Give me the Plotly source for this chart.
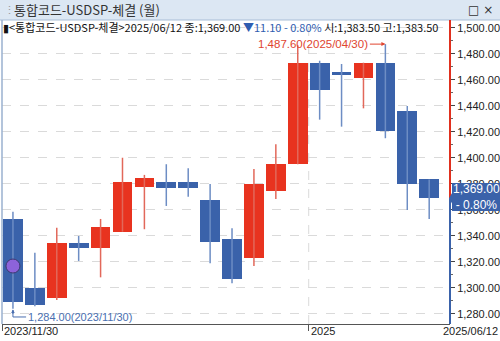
import plotly.graph_objects as go

# ---- data (monthly USD/KRW candles) ----
months = ["2023/11", "2023/12", "2024/01", "2024/02", "2024/03", "2024/04", "2024/05",
          "2024/06", "2024/07", "2024/08", "2024/09", "2024/10", "2024/11", "2024/12",
          "2025/01", "2025/02", "2025/03", "2025/04", "2025/05", "2025/06"]
open_ = [1353.1, 1299.8, 1292.6, 1334.8, 1330.8, 1343.3, 1378.0, 1381.3, 1381.5, 1367.7,
         1337.5, 1323.3, 1374.6, 1395.2, 1473.3, 1466.4, 1461.3, 1473.3, 1436.2, 1383.5]
high = [1358.7, 1327.2, 1346.4, 1340.0, 1353.1, 1400.2, 1387.0, 1395.2, 1392.1, 1380.0,
        1345.9, 1391.5, 1410.5, 1486.7, 1474.8, 1472.3, 1473.3, 1487.6, 1440.0, 1383.5]
low = [1284.0, 1286.0, 1290.8, 1320.8, 1308.2, 1343.3, 1345.2, 1363.1, 1370.2, 1319.0,
       1303.6, 1317.0, 1368.5, 1395.2, 1429.5, 1424.1, 1438.2, 1415.2, 1360.0, 1353.1]
close = [1289.5, 1287.0, 1334.8, 1331.0, 1347.2, 1381.8, 1384.8, 1376.7, 1377.0, 1335.6,
         1306.9, 1380.0, 1395.2, 1472.8, 1452.3, 1463.8, 1473.3, 1420.8, 1379.8, 1369.0]
y_ticks = [1280, 1300, 1320, 1340, 1360, 1380, 1400, 1420, 1440, 1460, 1480, 1500]
x_labels = ["2023/11/30", "2025", "2025/06/12"]
marker_value = 1316.9  # purple dot on first candle

RED = "#E8331F"
BLUE = "#3A62AA"
RED_W = "#E2685A"
BLUE_W = "#6D8DC4"

idx = list(range(len(months)))
up = [c >= o for o, c in zip(open_, close)]

fig = go.Figure()

# wicks
for is_up, col in [(True, RED_W), (False, BLUE_W)]:
    xs, ys = [], []
    for i in idx:
        if up[i] == is_up:
            xs += [i, i, None]
            ys += [low[i], high[i], None]
    fig.add_trace(go.Scatter(x=xs, y=ys, mode="lines", line=dict(color=col, width=1.5),
                             hoverinfo="skip", showlegend=False))

# bodies
for is_up, col in [(True, RED), (False, BLUE)]:
    xs = [i for i in idx if up[i] == is_up]
    base = [min(open_[i], close[i]) for i in xs]
    h = [abs(close[i] - open_[i]) for i in xs]
    fig.add_trace(go.Bar(x=xs, y=h, base=base, width=0.9, marker=dict(color=col, line=dict(width=0)),
                         showlegend=False, hoverinfo="skip"))

# purple marker
fig.add_trace(go.Scatter(x=[0], y=[marker_value], mode="markers",
                         marker=dict(size=14, color="#8D63DA", line=dict(color="#3E3A70", width=1)),
                         showlegend=False, hoverinfo="skip"))

YMIN, YMAX = 1272.3, 1506.15
fig.update_layout(
    width=500, height=341, margin=dict(l=0, r=0, t=0, b=0),
    paper_bgcolor="white", plot_bgcolor="white", bargap=0,
    font=dict(family="Liberation Sans, Arial", size=11, color="#222"),
    xaxis=dict(domain=[0.004, 0.9], range=[-0.5, 19.95], showgrid=False, zeroline=False,
               showline=True, linecolor="#555", linewidth=1,
               tickvals=[-0.5, 13.5], ticks="outside", ticklen=6, tickcolor="#555",
               showticklabels=False),
    yaxis=dict(domain=[17 / 341, 321 / 341], range=[YMIN, YMAX], side="right",
               tickvals=y_ticks, ticktext=[f"{v:,.2f}" for v in y_ticks],
               ticks="outside", ticklen=4, tickcolor="#444",
               minor=dict(tickvals=[v + 10 for v in y_ticks], ticks="outside", ticklen=2, tickcolor="#666"),
               showgrid=True, gridcolor="#DADADA", griddash="dash", gridwidth=1,
               zeroline=False, showline=False,
               tickfont=dict(family="Liberation Sans, Arial", size=11, color="#222")),
)

shapes = []
# header bar
shapes.append(dict(type="rect", xref="paper", yref="paper", x0=0, x1=1, y0=1 - 20 / 341, y1=1,
                   fillcolor="#DCE7F3", line=dict(width=0), layer="above"))
shapes.append(dict(type="line", xref="paper", yref="paper", x0=0, x1=1, y0=1 - 20 / 341, y1=1 - 20 / 341,
                   line=dict(color="#A8BDD6", width=1), layer="above"))
# vertical 2025 separator
shapes.append(dict(type="line", xref="x", yref="paper", x0=13.5, x1=13.5, y0=17 / 341, y1=321 / 341,
                   line=dict(color="#DADADA", width=1, dash="dash"), layer="below"))
# left border
shapes.append(dict(type="line", xref="paper", yref="paper", x0=0.004, x1=0.004, y0=17 / 341, y1=321 / 341,
                   line=dict(color="#9AB0CF", width=1.5)))
# right axis line: red above last close, blue below
last = close[-1]
shapes.append(dict(type="line", xref="paper", yref="y", x0=0.9, x1=0.9, y0=last, y1=YMAX,
                   line=dict(color="#E0301E", width=2)))
shapes.append(dict(type="line", xref="paper", yref="y", x0=0.9, x1=0.9, y0=YMIN, y1=last,
                   line=dict(color=BLUE, width=2)))
# current price tag
top, bot = last + 11.8, last - 9.8
shapes.append(dict(type="path", xref="paper", yref="y",
                   path=f"M 0.904 {top} L 1.0 {top} L 1.0 {bot} L 0.904 {bot} L 0.904 {last - 4} "
                        f"L 0.898 {last} L 0.904 {last + 4} Z",
                   fillcolor="#3A62AA", line=dict(width=0), layer="above"))
# low marker bracket
shapes.append(dict(type="path", xref="x", yref="y",
                   path=f"M 0.6 {low[0] - 6.3} L 0 {low[0] - 6.3} L 0 {low[0] - 1}",
                   line=dict(color="#4A6FB0", width=1)))
fig.update_layout(shapes=shapes)

ann = []
# header title
ann.append(dict(xref="paper", yref="paper", x=0.024, y=1 - 10 / 341, xanchor="left", yanchor="middle",
                text="통합코드-USDSP-체결 (월)", showarrow=False,
                font=dict(family="Noto Sans CJK KR", size=13, color="#333")))
ann.append(dict(xref="paper", yref="paper", x=0.004, y=1 - 10 / 341, xanchor="left", yanchor="middle",
                text="⋮", showarrow=False, font=dict(size=11, color="#999")))
ann.append(dict(xref="paper", yref="paper", x=0.99, y=1 - 10 / 341, xanchor="right", yanchor="middle",
                text="□ ×", showarrow=False, font=dict(family="DejaVu Sans", size=12, color="#333")))
# info line
info = ("▮<통합코드-USDSP-체결>2025/06/12 종:1,369.00 "
        "<span style='color:#2F5DB0'>▼11.10 - 0.80%</span> 시:1,383.50 고:1,383.50")
ann.append(dict(xref="paper", yref="paper", x=0.002, y=1 - 27 / 341, xanchor="left", yanchor="middle",
                text=info, showarrow=False,
                font=dict(family="Noto Sans CJK KR", size=11, color="#111")))
# price tag text
ann.append(dict(xref="paper", yref="y", x=0.952, y=last + 1, xanchor="center", yanchor="middle",
                text=f"{last:,.2f}<br>- 0.80%", showarrow=False,
                font=dict(family="Liberation Sans, Arial", size=12, color="white")))
# high annotation
hi_i = max(idx, key=lambda i: high[i])
ann.append(dict(xref="x", yref="y", x=hi_i, y=high[hi_i], text=f"{high[hi_i]:,.2f}(2025/04/30)",
                showarrow=True, arrowhead=2, arrowsize=0.8, arrowwidth=1, arrowcolor="#E0452F",
                ax=-72, ay=0, font=dict(family="Liberation Sans, Arial", size=11.5, color="#E0452F")))
# low annotation
ann.append(dict(xref="x", yref="y", x=0.6, y=low[0] - 6.3, xanchor="left", yanchor="middle",
                text=f"{low[0]:,.2f}(2023/11/30)", showarrow=False,
                font=dict(family="Liberation Sans, Arial", size=11, color="#4A6FB0")))
ann.append(dict(xref="x", yref="y", x=0, y=low[0] - 0.5, text="", showarrow=True, arrowhead=2,
                arrowsize=0.7, arrowwidth=1, arrowcolor="#4A6FB0", ax=0, ay=6))
# x labels
ann.append(dict(xref="paper", yref="paper", x=0.004, y=1 - 331 / 341, xanchor="left", yanchor="middle",
                text=x_labels[0], showarrow=False, font=dict(size=11, color="#222")))
ann.append(dict(xref="x", yref="paper", x=13.5, y=1 - 331 / 341, xanchor="left", yanchor="middle",
                text=x_labels[1], showarrow=False, font=dict(size=11, color="#222")))
ann.append(dict(xref="paper", yref="paper", x=1.0, y=1 - 331 / 341, xanchor="right", yanchor="middle",
                text=x_labels[2], showarrow=False, font=dict(size=11, color="#222")))
fig.update_layout(annotations=ann)

fig.write_html("out.html")
